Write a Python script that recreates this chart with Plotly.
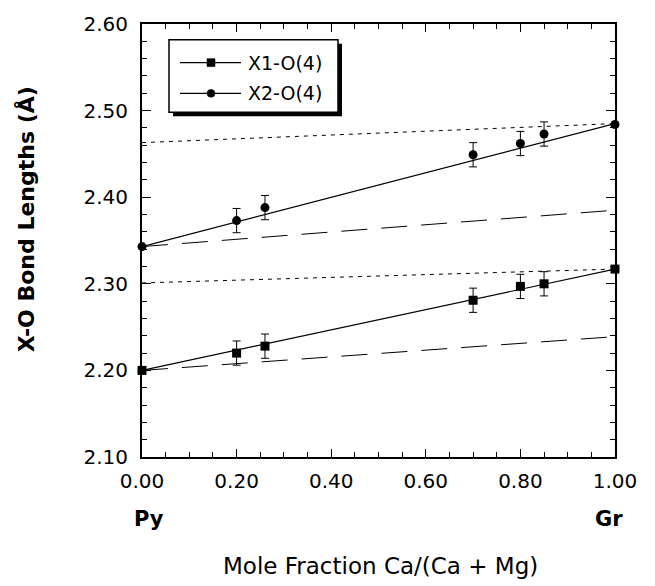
import plotly.graph_objects as go

# Composition (mole fraction Ca/(Ca+Mg)) of the garnet samples
composition = [0.00, 0.20, 0.26, 0.70, 0.80, 0.85, 1.00]

# Measured X-O(4) bond lengths (Å) and their uncertainties
x1_o4 = [2.200, 2.220, 2.228, 2.281, 2.297, 2.300, 2.317]
x1_err = [0.0, 0.014, 0.014, 0.014, 0.014, 0.014, 0.0]
x2_o4 = [2.343, 2.373, 2.388, 2.449, 2.462, 2.473, 2.484]
x2_err = [0.0, 0.014, 0.014, 0.014, 0.014, 0.014, 0.0]

# Reference lines across the join (end members Py and Gr)
join_ends = [0.0, 1.0]
x1_fit = [2.200, 2.317]
x1_upper = [2.301, 2.317]
x1_lower = [2.200, 2.239]
x2_fit = [2.343, 2.485]
x2_upper = [2.463, 2.485]
x2_lower = [2.343, 2.385]

FONT = "DejaVu Sans"
W, H = 655, 586
L, R, T, B = 142, 40, 20, 129
PW, PH = W - L - R, H - T - B


def px(xp):
    return (xp - L) / PW


def py(yp):
    return (H - B - yp) / PH


fig = go.Figure()

line_style = dict(color="black", width=1.2)
fig.add_trace(go.Scatter(x=join_ends, y=x2_upper, mode="lines",
                         line=dict(color="black", width=1, dash="4px,5px")))
fig.add_trace(go.Scatter(x=join_ends, y=x1_upper, mode="lines",
                         line=dict(color="black", width=1, dash="4px,5px")))
fig.add_trace(go.Scatter(x=join_ends, y=x2_lower, mode="lines",
                         line=dict(color="black", width=1, dash="26px,14px")))
fig.add_trace(go.Scatter(x=join_ends, y=x1_lower, mode="lines",
                         line=dict(color="black", width=1, dash="26px,14px")))
fig.add_trace(go.Scatter(x=join_ends, y=x2_fit, mode="lines", line=line_style))
fig.add_trace(go.Scatter(x=join_ends, y=x1_fit, mode="lines", line=line_style))

err_style = dict(type="data", color="black", thickness=1, width=4, visible=True)
fig.add_trace(go.Scatter(
    x=composition, y=x1_o4, mode="markers", name="X1-O(4)",
    marker=dict(symbol="square", size=9, color="black"),
    error_y=dict(array=x1_err, **err_style), cliponaxis=False))
fig.add_trace(go.Scatter(
    x=composition, y=x2_o4, mode="markers", name="X2-O(4)",
    marker=dict(symbol="circle", size=9, color="black"),
    error_y=dict(array=x2_err, **err_style), cliponaxis=False))

axis_common = dict(
    showline=True, linecolor="black", linewidth=2, mirror="allticks",
    ticks="inside", tickcolor="black", tickwidth=1,
    showgrid=False, zeroline=False,
    tickfont=dict(family=FONT, size=20, color="black"),
)
fig.update_xaxes(range=[0, 1], tickvals=[0, 0.2, 0.4, 0.6, 0.8, 1.0],
                 ticktext=["0.00", "0.20", "0.40", "0.60", "0.80", "1.00"],
                 ticklen=8, ticklabelstandoff=5,
                 minor=dict(dtick=0.05, ticks="inside", ticklen=5,
                            tickcolor="black", tickwidth=1, showgrid=False),
                 **axis_common)
fig.update_yaxes(range=[2.10, 2.60], tickvals=[2.1, 2.2, 2.3, 2.4, 2.5, 2.6],
                 ticktext=["2.10", "2.20", "2.30", "2.40", "2.50", "2.60"],
                 ticklen=9, ticklabelstandoff=8,
                 minor=dict(dtick=0.02, tick0=2.1, ticks="inside", ticklen=5,
                            tickcolor="black", tickwidth=1, showgrid=False),
                 **axis_common)

# Legend box with drop shadow
shapes = [
    dict(type="rect", xref="paper", yref="paper",
         x0=px(173), x1=px(342), y0=py(113), y1=py(40),
         fillcolor="black", line=dict(width=0)),
    dict(type="rect", xref="paper", yref="paper",
         x0=px(169), x1=px(338), y0=py(109), y1=py(36),
         fillcolor="white", line=dict(color="black", width=1.5)),
]
for yrow, sym in [(59, "square"), (90, "circle")]:
    shapes.append(dict(type="line", xref="paper", yref="paper",
                       x0=px(180), x1=px(241), y0=py(yrow), y1=py(yrow),
                       line=dict(color="black", width=1.2)))
    shapes.append(dict(type="rect" if sym == "square" else "circle",
                       xref="paper", yref="paper",
                       x0=px(207), x1=px(215), y0=py(yrow + 4), y1=py(yrow - 4),
                       fillcolor="black", line=dict(color="black", width=0.5)))

annotations = [
    dict(text="X1-O(4)", x=px(246), y=py(59), xanchor="left", yanchor="middle"),
    dict(text="X2-O(4)", x=px(246), y=py(90), xanchor="left", yanchor="middle"),
]
for a in annotations:
    a.update(xref="paper", yref="paper", showarrow=False,
             font=dict(family=FONT, size=19, color="black"))

annotations += [
    dict(text="<b>Py</b>", x=px(149), y=py(520), xref="paper", yref="paper",
         showarrow=False, xanchor="center", yanchor="middle",
         font=dict(family=FONT, size=21, color="black")),
    dict(text="<b>Gr</b>", x=px(609), y=py(520), xref="paper", yref="paper",
         showarrow=False, xanchor="center", yanchor="middle",
         font=dict(family=FONT, size=21, color="black")),
    dict(text="Mole Fraction Ca/(Ca + Mg)", x=px(380), y=py(567),
         xref="paper", yref="paper", showarrow=False,
         xanchor="center", yanchor="middle",
         font=dict(family=FONT, size=23, color="black")),
    dict(text="<b>X-O Bond Lengths (Å)</b>", x=px(26), y=py(217),
         xref="paper", yref="paper", showarrow=False, textangle=-90,
         xanchor="center", yanchor="middle",
         font=dict(family=FONT, size=22, color="black")),
]

fig.update_layout(
    width=W, height=H,
    margin=dict(l=L, r=R, t=T, b=B),
    paper_bgcolor="white", plot_bgcolor="white",
    showlegend=False,
    shapes=shapes, annotations=annotations,
)

fig.write_html("out.html")
